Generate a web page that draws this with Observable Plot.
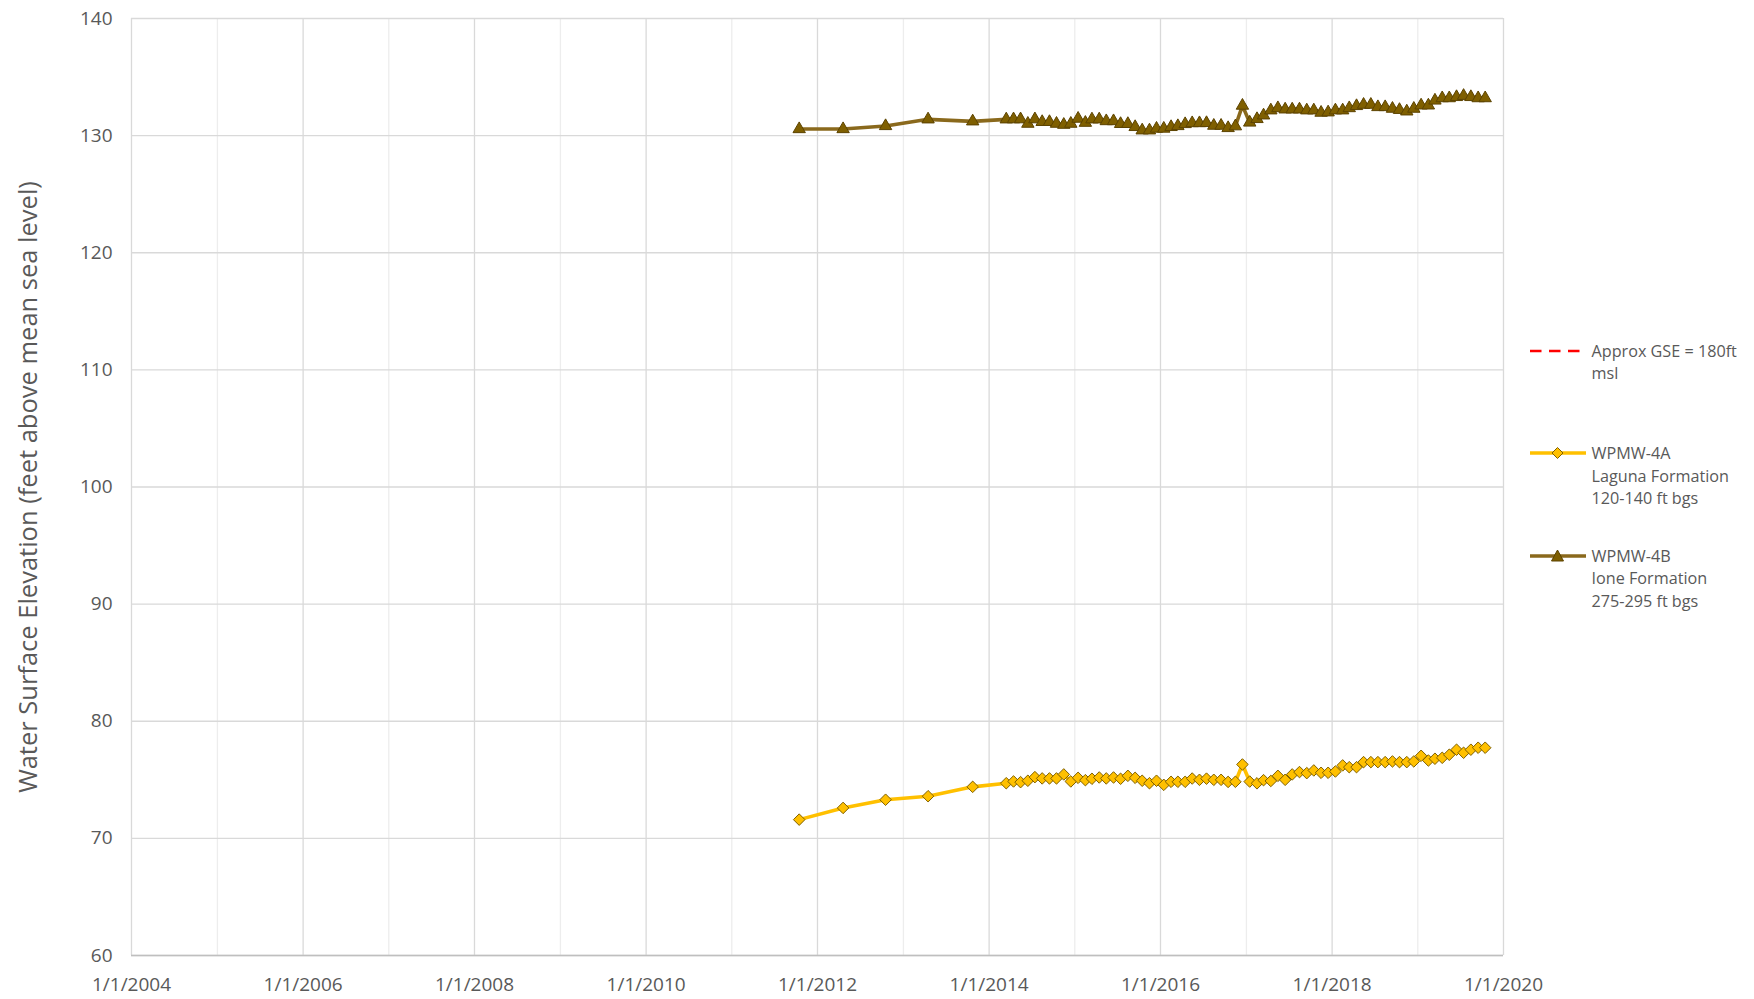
<!DOCTYPE html>
<html>
<head>
<meta charset="utf-8">
<script src="https://cdn.jsdelivr.net/npm/d3@7"></script>
<script src="https://cdn.jsdelivr.net/npm/@observablehq/plot@0.6"></script>
<style>
  body { margin: 0; background: #fff; }
  #wrap { position: relative; width: 1754px; height: 999px; overflow: hidden; font-family: 'Open Sans', sans-serif; color: #595959; }
  #chart { position: absolute; left: 0; top: 0; }
  .leg { position: absolute; left: 1530px; font-size: 16.2px; line-height: 22.5px; }
  .leg svg { position: absolute; left: 0; top: 4px; overflow: visible; }
  .leg .t { position: absolute; left: 61.5px; top: 0; white-space: nowrap; }
</style>
</head>
<body>
<div id="wrap">
  <div id="chart"></div>
  <div class="leg" style="top:339.5px">
    <svg width="56" height="14"><line x1="0" x2="56" y1="7" y2="7" stroke="#FF0000" stroke-width="2.4" stroke-dasharray="11.5,7.5"/></svg>
    <div class="t">Approx GSE = 180ft<br>msl</div>
  </div>
  <div class="leg" style="top:442px">
    <svg width="56" height="14"><line x1="0" x2="56" y1="7" y2="7" stroke="#FFC000" stroke-width="3.6"/><path d="M27.5,1.5 L33,7 L27.5,12.5 L22,7 Z" fill="#FFC000" stroke="#7F6000" stroke-width="1"/></svg>
    <div class="t">WPMW-4A<br>Laguna Formation<br>120-140 ft bgs</div>
  </div>
  <div class="leg" style="top:544.5px">
    <svg width="56" height="14"><line x1="0" x2="56" y1="7" y2="7" stroke="#8A691C" stroke-width="3.6"/><path d="M27.5,1 L33.5,12 L21.5,12 Z" fill="#7F5F00" stroke="#5C4300" stroke-width="1"/></svg>
    <div class="t">WPMW-4B<br>Ione Formation<br>275-295 ft bgs</div>
  </div>
</div>
<script>
// ---- Data ----
const sampleDates = [
  "2011-10-15","2012-04-19","2012-10-17","2013-04-16","2013-10-23",
  "2014-03-15","2014-04-15","2014-05-15","2014-06-15","2014-07-15","2014-08-15","2014-09-15","2014-10-15","2014-11-15","2014-12-15",
  "2015-01-15","2015-02-15","2015-03-15","2015-04-15","2015-05-15","2015-06-15","2015-07-15","2015-08-15","2015-09-15","2015-10-15","2015-11-15","2015-12-15",
  "2016-01-15","2016-02-15","2016-03-15","2016-04-15","2016-05-15","2016-06-15","2016-07-15","2016-08-15","2016-09-15","2016-10-15","2016-11-15","2016-12-15",
  "2017-01-15","2017-02-15","2017-03-15","2017-04-15","2017-05-15","2017-06-15","2017-07-15","2017-08-15","2017-09-15","2017-10-15","2017-11-15","2017-12-15",
  "2018-01-15","2018-02-15","2018-03-15","2018-04-15","2018-05-15","2018-06-15","2018-07-15","2018-08-15","2018-09-15","2018-10-15","2018-11-15","2018-12-15",
  "2019-01-15","2019-02-15","2019-03-15","2019-04-15","2019-05-15","2019-06-15","2019-07-15","2019-08-15","2019-09-15","2019-10-15"
];
const wpmw4A = [
  71.6, 72.6, 73.3, 73.6, 74.4,
  74.71, 74.86, 74.8, 74.92, 75.23, 75.12, 75.12, 75.12, 75.46, 74.86,
  75.17, 74.97, 75.09, 75.2, 75.12, 75.2, 75.09, 75.34, 75.17, 74.92, 74.71, 74.92,
  74.57, 74.83, 74.83, 74.83, 75.11, 75.0, 75.1, 75.0, 75.0, 74.82, 74.83, 76.31,
  74.85, 74.7, 74.97, 74.9, 75.34, 75.0, 75.46, 75.66, 75.57, 75.8, 75.6, 75.6,
  75.71, 76.23, 76.08, 76.08, 76.51, 76.51, 76.51, 76.51, 76.57, 76.51, 76.51, 76.57,
  77.05, 76.65, 76.8, 76.88, 77.14, 77.57, 77.31, 77.57, 77.74, 77.74
];
const wpmw4B = [
  130.56, 130.56, 130.82, 131.39, 131.22,
  131.39, 131.4, 131.4, 131.02, 131.4, 131.17, 131.17, 131.02, 130.93, 131.02,
  131.45, 131.1, 131.39, 131.39, 131.24, 131.24, 131.0, 131.0, 130.74, 130.45, 130.45, 130.6,
  130.6, 130.74, 130.82, 130.99, 131.07, 131.07, 131.08, 130.85, 130.85, 130.65, 130.8, 132.56,
  131.12, 131.42, 131.73, 132.16, 132.35, 132.24, 132.24, 132.24, 132.16, 132.16, 131.96, 131.99,
  132.16, 132.16, 132.35, 132.53, 132.64, 132.64, 132.44, 132.44, 132.3, 132.2, 132.07, 132.3,
  132.58, 132.58, 133.0, 133.2, 133.2, 133.3, 133.4, 133.3, 133.2, 133.2
];
const xMajorTicks = ["2004-01-01","2006-01-01","2008-01-01","2010-01-01","2012-01-01","2014-01-01","2016-01-01","2018-01-01","2020-01-01"];
const xMinorTicks = ["2005-01-01","2007-01-01","2009-01-01","2011-01-01","2013-01-01","2015-01-01","2017-01-01","2019-01-01"];
const yTicks = [60, 70, 80, 90, 100, 110, 120, 130, 140];
const yTitle = "Water Surface Elevation (feet above mean sea level)";

// ---- Build tables ----
const parse = s => new Date(s + "T00:00:00Z");
const rowsA = sampleDates.map((d, i) => ({date: parse(d), value: wpmw4A[i]}));
const rowsB = sampleDates.map((d, i) => ({date: parse(d), value: wpmw4B[i]}));
const majors = xMajorTicks.map(parse);
const minors = xMinorTicks.map(parse);

const chart = Plot.plot({
  width: 1754,
  height: 999,
  marginLeft: 131,
  marginRight: 251,
  marginTop: 18,
  marginBottom: 44,
  style: {fontFamily: "'Open Sans', sans-serif", fontSize: "19px", color: "#595959", background: "white"},
  x: {type: "utc", domain: [majors[0], majors[majors.length - 1]]},
  y: {domain: [60, 140]},
  marks: [
    Plot.ruleX(minors, {stroke: "#ededed", strokeWidth: 1.3}),
    Plot.ruleX(majors, {stroke: "#d9d9d9", strokeWidth: 1.3}),
    Plot.ruleY(yTicks, {stroke: "#d9d9d9", strokeWidth: 1.3}),
    Plot.ruleY([60], {stroke: "#bfbfbf", strokeWidth: 1.5}),
    Plot.axisX(majors, {tickSize: 0, tickPadding: 22, label: null, fontSize: 19, tickFormat: d => `1/1/${d.getUTCFullYear()}`}),
    Plot.axisY(yTicks, {tickSize: 0, tickPadding: 19, label: null, fontSize: 19}),
    Plot.text([yTitle], {frameAnchor: "left", textAnchor: "middle", lineAnchor: "middle", dx: -103, rotate: -90, fontSize: 25.5, fill: "#595959"}),
    Plot.line(rowsA, {x: "date", y: "value", stroke: "#FFC000", strokeWidth: 3.6}),
    Plot.dot(rowsA, {x: "date", y: "value", symbol: "diamond2", r: 5.2, fill: "#FFC000", stroke: "#7F6000", strokeWidth: 1}),
    Plot.line(rowsB, {x: "date", y: "value", stroke: "#8A691C", strokeWidth: 3.6}),
    Plot.dot(rowsB, {x: "date", y: "value", symbol: "triangle", r: 4.6, fill: "#7F5F00", stroke: "#5C4300", strokeWidth: 1})
  ]
});
document.getElementById("chart").appendChild(chart);
</script>
</body>
</html>
